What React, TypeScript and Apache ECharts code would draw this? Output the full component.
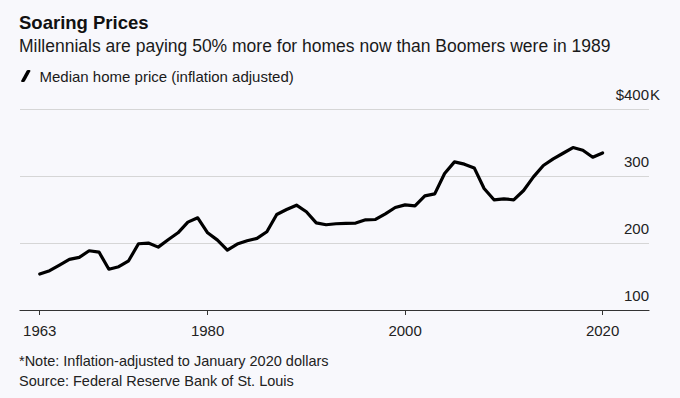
import React, { useEffect, useRef } from "react";
import * as echarts from "echarts";

const years = [
  1963, 1964, 1965, 1966, 1967, 1968, 1969, 1970, 1971, 1972, 1973, 1974, 1975, 1976, 1977,
  1978, 1979, 1980, 1981, 1982, 1983, 1984, 1985, 1986, 1987, 1988, 1989, 1990, 1991, 1992,
  1993, 1994, 1995, 1996, 1997, 1998, 1999, 2000, 2001, 2002, 2003, 2004, 2005, 2006, 2007,
  2008, 2009, 2010, 2011, 2012, 2013, 2014, 2015, 2016, 2017, 2018, 2019, 2020,
];

// Median home price, inflation adjusted, thousands of dollars
const medianPrice = [
  153.7, 158.7, 167, 175.6, 178.6, 188.6, 186.6, 161, 164.7, 173.6, 199, 200, 194, 205, 215.4,
  231.3, 237.8, 215.4, 204.5, 189.6, 198.5, 203.5, 207, 217, 242.8, 250.2, 256.7, 246.8, 230.3,
  227.4, 228.9, 229.4, 229.9, 234.8, 235.3, 243.8, 253.2, 257.2, 255.7, 270.6, 273.6, 304,
  321.4, 318, 312.4, 281.6, 264.7, 266.2, 264.7, 278.6, 299, 316, 325.9, 334.3, 342.8, 338.8,
  328.4, 334.8,
];

const xTickYears = [1963, 1980, 2000, 2020];

const titleText = "Soaring Prices";
const subtitleText = "Millennials are paying 50% more for homes now than Boomers were in 1989";
const seriesName = "Median home price (inflation adjusted)";
const noteText = "*Note: Inflation-adjusted to January 2020 dollars";
const sourceText = "Source: Federal Reserve Bank of St. Louis";

const FONT = "'Liberation Sans', Arial, Helvetica, sans-serif";
const BG = "#f8f8fc";
const K_W = 12;

export default function App() {
  const ref = useRef<HTMLDivElement>(null);

  useEffect(() => {
    if (!ref.current) return;
    const chart = echarts.init(ref.current, null, { renderer: "svg" });
    const data = years.map((y, i) => [y, medianPrice[i]]);
    chart.setOption({
      animation: false,
      backgroundColor: BG,
      textStyle: { fontFamily: FONT },
      title: [
        {
          text: titleText,
          left: 19,
          top: 13,
          padding: 0,
          textStyle: { fontSize: 18.5, fontWeight: "bold", color: "#111", fontFamily: FONT },
        },
        {
          text: subtitleText,
          left: 19,
          top: 37,
          padding: 0,
          textStyle: { fontSize: 17.5, fontWeight: "normal", color: "#1a1a1a", fontFamily: FONT },
        },
        {
          text: noteText,
          left: 19,
          top: 353,
          padding: 0,
          textStyle: { fontSize: 14.5, fontWeight: "normal", color: "#222", fontFamily: FONT },
        },
        {
          text: sourceText,
          left: 19,
          top: 373,
          padding: 0,
          textStyle: { fontSize: 14.5, fontWeight: "normal", color: "#222", fontFamily: FONT },
        },
      ],
      legend: {
        show: true,
        left: 21,
        top: 68.5,
        padding: 0,
        itemWidth: 9.5,
        itemHeight: 12,
        icon: "path://M0,11 Q0,12 1.2,12 L2.6,12 Q3.4,12 3.9,11.2 L9.5,1 Q9.5,0 8.3,0 L6.9,0 Q6.1,0 5.6,0.8 Z",
        itemStyle: { color: "#000" },
        textStyle: { fontSize: 15, color: "#1a1a1a", fontFamily: FONT, padding: [0, 0, 0, 4] },
        data: [seriesName],
      },
      grid: {
        left: 20,
        right: 31,
        top: 109.3,
        bottom: 88,
        containLabel: false,
        outerBoundsMode: "none",
      },
      xAxis: {
        type: "value",
        min: 1961,
        max: 2024.7,
        axisLine: { show: true, lineStyle: { color: "#333", width: 1.2 } },
        axisTick: {
          show: true,
          length: 5,
          customValues: xTickYears,
          lineStyle: { color: "#333", width: 1 },
        },
        axisLabel: {
          show: true,
          customValues: xTickYears,
          fontSize: 15,
          color: "#222",
          margin: 13,
          fontFamily: FONT,
          formatter: (v: number) => String(v),
        },
        splitLine: { show: false },
      },
      yAxis: {
        type: "value",
        position: "right",
        min: 100,
        max: 400,
        interval: 100,
        axisLine: { show: false },
        axisTick: { show: false },
        splitLine: { show: true, lineStyle: { color: "#d6d6d6", width: 1 } },
        axisLabel: {
          show: true,
          inside: true,
          margin: -K_W,
          align: "right",
          verticalAlign: "bottom",
          padding: [0, 0, 7, 0],
          fontSize: 15,
          color: "#222",
          fontFamily: FONT,
          formatter: (v: number) => (v === 400 ? "$400{k|K}" : v + "{s| }"),
          rich: {
            k: { fontSize: 15, color: "#222", fontFamily: FONT, width: K_W, align: "left" },
            s: { fontSize: 15, color: "#222", fontFamily: FONT, width: K_W },
          },
        },
      },
      series: [
        {
          name: seriesName,
          type: "line",
          data,
          symbol: "none",
          lineStyle: { color: "#000", width: 3.2, join: "round", cap: "round" },
          itemStyle: { color: "#000" },
        },
      ],
    });
    return () => chart.dispose();
  }, []);

  return (
    <div
      ref={ref}
      style={{ position: "fixed", left: 0, top: 0, width: 680, height: 398, background: BG }}
    />
  );
}
